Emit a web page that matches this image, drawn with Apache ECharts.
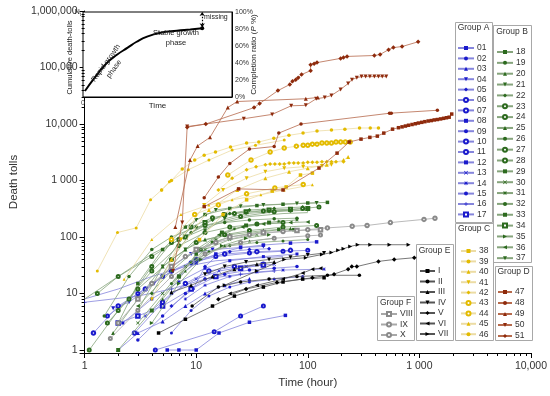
<!DOCTYPE html>
<html><head><meta charset="utf-8">
<script src="https://cdn.jsdelivr.net/npm/echarts@6/dist/echarts.min.js"></script>
<style>html,body{margin:0;padding:0;background:#fff}#c{width:550px;height:396px}</style>
</head><body><div id="c"></div>
<script>
// ---------- tick labels ----------
const X_TICKS = [1, 10, 100, 1000, 10000];
const X_TICK_LABELS = ['1', '10', '100', '1 000', '10,000'];
const Y_TICKS = [1, 10, 100, 1000, 10000, 100000, 1000000];
const Y_TICK_LABELS = ['1', '10', '100', '1 000', '10,000', '100,000', '1,000,000'];
const X_MINOR = [2,3,4,5,6,7,8,9,20,30,40,50,60,70,80,90,200,300,400,500,600,700,800,900,2000,3000,4000,5000,6000,7000,8000,9000];
const Y_MINOR = [2,3,4,5,6,7,8,9,20,30,40,50,60,70,80,90,200,300,400,500,600,700,800,900,2000,3000,4000,5000,6000,7000,8000,9000,20000,30000,40000,50000,60000,70000,80000,90000,200000,300000,400000,500000,600000,700000,800000,900000];

// ---------- Group A ----------
const A_NAMES = ['01','02','03','04','05','06','07','08','09','10','11','12','13','14','15','16','17'];
const S01 = [[5.5,1],[7,1],[10,1],[16,2],[30,3.1],[63,4.1]];
const S02 = [[3,1.5],[5,4],[8,10],[12,18],[18,22],[30,26],[50,28],[80,30]];
const S03 = [[2,1],[3,2],[5,3.2],[8,6],[12,10],[18,14],[30,18]];
const S04 = [[1.8,5.5],[2.5,7],[4.2,15],[6,30],[9,50],[14,60],[25,65],[40,68]];
const S05 = [[6,6],[9.4,12],[12,30],[15,45],[20,55],[30,60],[45,62]];
const S06 = [[4.3,1],[14.5,2.1],[25,4],[40,6]];
const S07 = [[1.2,2],[2,6],[3.5,12],[6,25],[10,40],[18,50],[35,55],[70,58]];
const S08 = [[2.2,3],[4,8],[7,16],[12,28],[20,38],[40,45],[80,50]];
const S09 = [[6,2],[9,5],[13,9],[20,13],[30,16],[50,18],[90,20]];
const S10 = [[1.6,4],[3,10],[5,20],[9,35],[15,45],[30,52],[60,56],[100,58]];
const S11 = [[2.8,2],[5,7],[8,15],[13,25],[22,30],[40,33]];
const S12 = [[7,20],[10,35],[15,50],[25,65],[40,72],[70,78],[120,82]];
const S13 = [[3.5,4],[6,10],[10,18],[16,25],[28,30],[50,33]];
const S14 = [[8,8],[12,14],[20,20],[35,24],[60,26],[140,27]];
const S15 = [[1,8],[2,12],[4,20],[8,30],[15,38],[30,42],[60,45]];
const S16 = [[1,7],[3,9],[6,12],[12,18],[25,22],[50,25]];
const S17 = [[2,3],[3,4],[5,6],[9,12],[15,20],[25,28],[40,32]];

// ---------- Group B ----------
const B_NAMES = ['18','19','20','21','22','23','24','25','26','27','28','29','30','31','32','33','34','35','36','37'];
const S18 = [[2,3],[3,15],[5,60],[8,150],[12,250],[20,320],[35,360],[60,380],[100,400],[150,410]];
const S19 = [[1.5,4],[2.5,20],[4,60],[6,100],[10,150],[18,180],[30,200],[50,210],[80,215]];
const S20 = [[1.8,2],[3,8],[5,30],[8,60],[12,90],[20,110],[40,130],[70,140]];
const S21 = [[3,5],[5,30],[7,80],[10,200],[15,300],[25,350],[40,370],[80,390],[120,400]];
const S22 = [[4,10],[6,40],[9,120],[14,200],[20,260],[30,300],[50,320],[90,340]];
const S23 = [[1.1,1],[2,5],[4,25],[7,70],[12,120],[20,150],[35,170],[60,180]];
const S24 = [[1.3,10],[2,20],[4,45],[7,90],[12,160],[25,230],[50,280],[90,320],[126,340]];
const S25 = [[5,8],[8,25],[12,50],[18,70],[30,85],[50,95]];
const S26 = [[6,15],[9,35],[13,55],[20,70],[35,80],[60,85],[100,90]];
const S27 = [[2.5,8],[4,30],[6,80],[9,150],[14,220],[22,260],[40,290],[70,300]];
const S28 = [[1.6,3],[3,12],[6,40],[10,80],[18,110],[30,130],[60,150],[120,160]];
const S29 = [[7,20],[10,50],[14,80],[20,100],[30,115],[55,135],[60,135],[75,135]];
const S30 = [[3,3],[5,10],[8,30],[12,60],[20,90],[35,110]];
const S31 = [[10,40],[15,90],[22,140],[35,170],[55,190],[80,200]];
const S32 = [[1,8],[2,20],[4,50],[8,100],[15,170],[30,230],[60,260],[100,270]];
const S33 = [[2,1],[4,5],[7,20],[11,60],[17,120],[28,160],[45,180]];
const S34 = [[8,100],[12,180],[18,250],[28,280],[45,300],[70,310],[100,320]];
const S35 = [[4,3],[7,15],[11,40],[17,70],[28,95],[45,110]];
const S36 = [[3,6],[6,25],[10,60],[16,110],[26,150],[40,170],[70,180],[100,185]];
const S37 = [[5,20],[8,60],[12,130],[18,210],[28,260],[45,280],[70,290],[100,300]];

// ---------- Group C ----------
const C_NAMES = ['38','39','40','41','42','43','44','45','46'];
const S38 = [[10.7,90],[17.4,250],[28.3,455],[48,650],[64,770],[86,1250],[110,1350]];
const S39 = [[4.9,680],[6,1000],[7.5,1600],[9.7,2300],[11.8,2800],[14.9,3200],[20.3,3900],[28.3,4600],[36.4,4800],[49.6,5600],[67.8,6300],[90.7,6900],[121,7500],[163,7800],[215,8100],[291,8500],[363,8500],[430,8500]];
const S40 = [[6,40],[13,300],[23.3,680],[41.7,1100],[68,1430],[100,1650],[148,1900],[209,2300],[230,2600]];
const S41 = [[4,7.9],[7.3,90],[11.8,370],[17.4,680],[28.3,1100],[41.7,1430],[61.5,1650],[91,1750],[134,1800],[163,1900]];
const S42 = [[15.8,680],[21,1100],[28.3,1550],[34.4,1750],[41.7,1900],[46,1950],[50.7,1950],[56,1950],[61.5,1950],[68,2050],[75,2050],[82,2050],[91,2050],[100,2100],[110,2100],[121,2100],[134,2150],[148,2150],[163,2150],[179,2150],[209,2150]];
const S43 = [[19.2,1250],[31,2300],[46,3200],[61.5,3750],[79,4050],[91,4200],[100,4200],[110,4400],[121,4400],[134,4600],[148,4600],[163,4600],[179,4800],[197,4800],[217,4800],[240,4800]];
const S44 = [[6,90],[9.7,250],[15.8,370],[28.3,580],[50.7,740],[91,850]];
const S45 = [[2.26,17.8],[4,90],[7.3,250],[13,370],[21,455],[38,560],[61.5,680],[110,840]];
const S46 = [[1.3,25],[1.97,120],[2.9,145],[3.9,455],[4.9,680],[5.75,950],[8.5,1550],[13,2300],[21,3460],[34,4200],[61.5,5200]];

// ---------- Group D ----------
const D_NAMES = ['47','48','49','50','51'];
const S47 = [[11.8,345],[24,710],[60,680],[126,1660],[183,3050],[235,4800],[300,5400],[360,5800],[420,6100],[480,6900],[575,8100],[650,8600],[700,8900],[750,9200],[800,9500],[860,9800],[920,10100],[980,10400],[1050,10700],[1120,11000],[1200,11300],[1280,11500],[1360,11800],[1450,12000],[1550,12300],[1650,12600],[1750,12900],[1850,13200],[1950,15000]];
const S48 = [[11.8,495],[15.8,1150],[20,2000],[30,3600],[50,4000],[55,6900],[87,10000],[540,15500],[560,15500],[1450,17500]];
const S49 = [[6.5,150],[8.8,2300],[10.3,4100],[13.3,5800],[19.2,19600],[23.3,25000],[96,28000],[123,29500]];
const S50 = [[6.2,25],[7.5,180],[8.3,9000],[26.7,12400],[48,14800],[71,21000],[96,21400],[119,28000],[142,29500],[163,32000],[197,41000],[230,52000],[249,61000],[275,66000],[303,69000],[330,69000],[360,69000],[395,69000],[430,69000],[465,69000],[505,69000]];
const S51 = [[8.3,8800],[12.2,10000],[33,19500],[37,23000],[54,39000],[69,50000],[73,57000],[78,61000],[82,66000],[88,75000],[106,88000],[106,112000],[114,117000],[121,122000],[197,145000],[209,150000],[225,157000],[395,163000],[445,170000],[530,207000],[585,225000],[700,235000],[975,285000]];

// ---------- Group E ----------
const E_NAMES = ['I','II','III','IV','V','VI','VII'];
const SE1 = [[4.6,2],[8,3.5],[14,6],[22,9],[40,13],[60,16],[90,18],[140,19]];
const SE2 = [[9.2,6],[15.8,13],[25,16],[45,18],[80,20],[150,21],[290,21]];
const SE3 = [[6,10.5],[9,14],[14,20],[22,27],[35,33],[50,36]];
const SE4 = [[12,22],[18,30],[28,36],[45,40],[70,44],[100,48],[140,52]];
const SE5 = [[15.8,7.9],[28,12],[53,15.7],[110,19],[172,22],[230,27],[248,30],[275,30],[430,37],[595,40],[900,43]];
const SE6 = [[20,10],[35,14],[60,18],[90,23],[110,27],[130,28]];
const SE7 = [[18,14],[35,25],[61.5,40],[96,43],[134,49],[163,53],[187,58],[209,62],[240,68],[280,73],[363,73],[540,73],[800,73]];

// ---------- Group F ----------
const F_NAMES = ['VIII','IX','X'];
const SF1 = [[3,8],[6,30],[10,60],[20,100],[40,120],[80,130],[130,135]];
const SF2 = [[2,3],[4,15],[8,45],[15,80],[30,110],[60,125],[100,135],[150,145],[250,155],[340,160],[550,180],[1100,205],[1380,215]];
const SF3 = [[1.7,1.6],[3,5],[6,20],[12,50],[25,80],[50,95],[100,105],[130,108]];

// ---------- inset curve ----------
const INSET_T = [0.013, 0.08, 0.16, 0.23, 0.30, 0.36, 0.43, 0.52, 0.63, 0.72, 0.80];
const INSET_P = [7, 23, 40, 50, 58, 65, 71, 75.5, 78, 79.5, 81];
const INSET_P_TICKS = [0, 20, 40, 60, 80, 100];

// ---------- styling ----------
const FONT = 'Liberation Sans';
const DOWN = 'path://M0,0L10,0L5,8.66Z';
const RIGHT = 'path://M0,0L8.66,5L0,10Z';
const LEFT = 'path://M8.66,0L0,5L8.66,10Z';
const CROSS = 'path://M1.2,0L5,3.8L8.8,0L10,1.2L6.2,5L10,8.8L8.8,10L5,6.2L1.2,10L0,8.8L3.8,5L0,1.2Z';
const PLUS = 'path://M4.2,0H5.8V4.2H10V5.8H5.8V10H4.2V5.8H0V4.2H4.2Z';
const STAR = 'path://M4.3,0H5.7V10H4.3Z M0,4.3H10V5.7H0Z M1.5,0.5L9.5,8.5L8.5,9.5L0.5,1.5Z M8.5,0.5L9.5,1.5L1.5,9.5L0.5,8.5Z';
const VBAR = 'path://M4.2,0H5.8V10H4.2Z';

const GROUPS = [
  {names: A_NAMES, data: [S01,S02,S03,S04,S05,S06,S07,S08,S09,S10,S11,S12,S13,S14,S15,S16,S17],
   sym: ['rect','circle','triangle',DOWN,'diamond','emptyCircle','emptyCircle','rect','circle','emptyCircle','emptyCircle','rect',CROSS,STAR,'none',PLUS,'emptyRect'],
   size: [3.5,3.5,4,4,4,3,3.5,3,3,3,3.5,3.5,3.5,3.5,0,4,3.5],
   marker: '#1a1acc', line: '#8585dc', z: 3},
  {names: B_NAMES, data: [S18,S19,S20,S21,S22,S23,S24,S25,S26,S27,S28,S29,S30,S31,S32,S33,S34,S35,S36,S37],
   sym: ['rect','circle','triangle',DOWN,'diamond','emptyCircle','emptyCircle','triangle','circle','emptyCircle','emptyCircle','rect',CROSS,STAR,'none',VBAR,'emptyRect',RIGHT,LEFT,DOWN],
   size: [3.5,3.5,4,4,4,3,3,3,3,3,3,3.5,3.5,3.5,0,4,3,4,4,4],
   marker: '#2c6a1e', line: '#86a47c', z: 4},
  {names: C_NAMES, data: [S38,S39,S40,S41,S42,S43,S44,S45,S46],
   sym: ['rect','circle','triangle',DOWN,'diamond','emptyCircle','emptyCircle','triangle','circle'],
   size: [3.5,3.5,4,4,4,3.5,3.5,3,3],
   marker: '#e3bb00', line: '#ecdca4', z: 5},
  {names: E_NAMES, data: [SE1,SE2,SE3,SE4,SE5,SE6,SE7],
   sym: ['rect','circle','triangle',DOWN,'diamond',LEFT,RIGHT],
   size: [3.5,3.5,4,4,4.5,4,4],
   marker: '#000000', line: '#555555', z: 6},
  {names: F_NAMES, data: [SF1,SF2,SF3],
   sym: ['emptyRect','emptyCircle','emptyCircle'],
   size: [3.5,3.5,3],
   marker: '#8a8a8a', line: '#a8a8a8', z: 6},
  {names: D_NAMES, data: [S47,S48,S49,S50,S51],
   sym: ['rect','circle','triangle',DOWN,'diamond'],
   size: [3.5,3.5,4,4,4.5],
   marker: '#8e2a0c', line: '#b66a4c', z: 7}
];

function tickFormatter(ticks, labels) {
  return function (v) {
    for (let i = 0; i < ticks.length; i++) {
      if (Math.abs(v - ticks[i]) <= ticks[i] * 1e-6) return labels[i];
    }
    return '';
  };
}

const series = [];
GROUPS.forEach(g => {
  g.names.forEach((n, i) => {
    series.push({
      name: n, type: 'line', xAxisIndex: 0, yAxisIndex: 0,
      data: g.data[i], symbol: g.sym[i], symbolSize: g.size[i],
      showSymbol: true, showAllSymbol: true,
      lineStyle: {color: g.line, width: 0.8},
      itemStyle: {color: g.marker, borderWidth: 0.8},
      emphasis: {disabled: true}, silent: true, z: g.z, animation: false
    });
  });
});

const Y_MIN = 0.885;
// minor ticks on the log axes
series.push({
  type: 'custom', xAxisIndex: 0, yAxisIndex: 0, silent: true, clip: false, z: 10,
  data: X_MINOR.map(v => [v, Y_MIN]),
  renderItem: (p, api) => {
    const c = api.coord([api.value(0), api.value(1)]);
    const x = Math.round(c[0]) + 0.5;
    return {type: 'line', shape: {x1: x, y1: c[1], x2: x, y2: c[1] + 3}, style: {stroke: '#000', lineWidth: 1}};
  }
});
series.push({
  type: 'custom', xAxisIndex: 0, yAxisIndex: 0, silent: true, clip: false, z: 10,
  data: Y_MINOR.map(v => [1, v]),
  renderItem: (p, api) => {
    const c = api.coord([api.value(0), api.value(1)]);
    const y = Math.round(c[1]) + 0.5;
    return {type: 'line', shape: {x1: c[0], y1: y, x2: c[0] - 3, y2: y}, style: {stroke: '#000', lineWidth: 1}};
  }
});

// inset curve
const insetData = INSET_T.map((t, i) => i === INSET_T.length - 1
  ? {value: [t, INSET_P[i]], symbol: 'circle', symbolSize: 4}
  : {value: [t, INSET_P[i]]});
series.push({
  type: 'line', xAxisIndex: 1, yAxisIndex: 2, data: insetData, smooth: 0.5,
  symbol: 'circle', symbolSize: 0, itemStyle: {color: '#000'},
  lineStyle: {color: '#000', width: 2}, silent: true, z: 20, animation: false,
  markLine: {
    silent: true, symbol: ['arrow', 'arrow'], symbolSize: 4, animation: false,
    label: {show: false},
    lineStyle: {color: '#000', type: [1.5, 1.5], width: 1.2},
    data: [[{coord: [INSET_T[INSET_T.length - 1], INSET_P[INSET_P.length - 1] + 1]}, {coord: [INSET_T[INSET_T.length - 1], 100]}]]
  }
});

function legend(names, left, top, gap, w) {
  return {
    data: names, orient: 'vertical', left: left, top: top, padding: 0,
    itemWidth: w, itemHeight: 5, itemGap: gap, selectedMode: false,
    textStyle: {fontFamily: FONT, fontSize: 8.5, color: '#333', lineHeight: 10, padding: [0, 0, 0, -2]},
    inactiveColor: '#333'
  };
}

const boxStyle = {stroke: '#a8a8a8', lineWidth: 1, fill: '#fff'};
function box(x, y, w, h) {
  return {type: 'rect', shape: {x: x + 0.5, y: y + 0.5, width: w, height: h}, style: boxStyle, z: 0, silent: true};
}
function gtitle(text, x, y) {
  return {type: 'text', x: x, y: y, z: 5, silent: true,
    style: {text: text, fontFamily: FONT, fontSize: 8.5, fill: '#333', align: 'center', verticalAlign: 'middle'}};
}
const insetText = {fontFamily: FONT, fontSize: 7.5, fill: '#222', align: 'center', verticalAlign: 'middle'};

const option = {
  backgroundColor: '#fff',
  animation: false,
  textStyle: {fontFamily: FONT},
  grid: [
    {left: 58, right: 18, top: 11, bottom: 43, containLabel: false},
    {left: 83, top: 12, width: 149, height: 85, show: true, backgroundColor: '#fff', borderColor: '#000', borderWidth: 1, z: 1}
  ],
  xAxis: [
    {type: 'log', logBase: 10, min: 1, max: 10000, gridIndex: 0,
     axisLine: {show: true, lineStyle: {color: '#000', width: 1}},
     axisTick: {show: true, inside: false, length: 5, lineStyle: {color: '#000'}},
     minorTick: {show: false}, splitLine: {show: false},
     axisLabel: {formatter: tickFormatter(X_TICKS, X_TICK_LABELS), fontFamily: FONT, fontSize: 10.5, color: '#333', margin: 8},
     name: 'Time (hour)', nameLocation: 'middle', nameGap: 24,
     nameTextStyle: {fontFamily: FONT, fontSize: 11.5, color: '#333'}},
    {type: 'value', min: 0, max: 1, gridIndex: 1,
     axisLine: {show: true, lineStyle: {color: '#000'}},
     axisTick: {show: false}, splitLine: {show: false},
     axisLabel: {formatter: v => (v === 0 ? '0' : ''), fontFamily: FONT, fontSize: 7, color: '#444', margin: 3, showMinLabel: true, showMaxLabel: false},
     name: 'Time', nameLocation: 'middle', nameGap: 5, nameMoveOverlap: false,
     nameTextStyle: {fontFamily: FONT, fontSize: 8, color: '#222', verticalAlign: 'top'}}
  ],
  yAxis: [
    {type: 'log', logBase: 10, min: Y_MIN, max: 1000000, gridIndex: 0,
     axisLine: {show: true, lineStyle: {color: '#000', width: 1}},
     axisTick: {show: true, inside: false, length: 5, lineStyle: {color: '#000'}},
     minorTick: {show: false}, splitLine: {show: false},
     axisLabel: {formatter: tickFormatter(Y_TICKS, Y_TICK_LABELS), fontFamily: FONT, fontSize: 10.5, color: '#333', margin: 7},
     name: 'Death tolls', nameLocation: 'middle', nameGap: 34, nameRotate: 90,
     nameTextStyle: {fontFamily: FONT, fontSize: 11.5, color: '#333'}},
    {type: 'value', min: 0, max: 100, interval: 20, gridIndex: 1, position: 'left',
     axisLine: {show: true, lineStyle: {color: '#000'}},
     axisTick: {show: true, inside: true, length: 3, lineStyle: {color: '#000'}},
     splitLine: {show: false},
     axisLabel: {formatter: v => (v === 100 ? '{n|N}{t|t}' : ''), margin: 2,
       rich: {n: {fontFamily: FONT, fontSize: 7, color: '#222'}, t: {fontFamily: FONT, fontSize: 4.5, color: '#222', padding: [5, 0, 0, 0]}}},
     name: 'Cumulative death-tolls', nameLocation: 'middle', nameGap: 9, nameRotate: 90, nameMoveOverlap: false,
     nameTextStyle: {fontFamily: FONT, fontSize: 7.5, color: '#222', padding: [0, 0, 0, -6]}},
    {type: 'value', min: 0, max: 100, interval: 20, gridIndex: 1, position: 'right',
     axisLine: {show: true, lineStyle: {color: '#000'}},
     axisTick: {show: true, inside: true, length: 3, lineStyle: {color: '#000'}},
     splitLine: {show: false},
     axisLabel: {formatter: v => INSET_P_TICKS.indexOf(v) >= 0 ? v + '%' : '', fontFamily: FONT, fontSize: 7, color: '#333', margin: 3},
     name: 'Completion ratio ({i|P} %)', nameLocation: 'middle', nameGap: 18, nameRotate: 90, nameMoveOverlap: false,
     nameTextStyle: {fontFamily: FONT, fontSize: 8, color: '#222', rich: {i: {fontFamily: FONT, fontSize: 8, fontStyle: 'italic', color: '#222'}}}}
  ],
  legend: [
    legend(A_NAMES, 457, 43, 0.4, 16),
    legend(B_NAMES, 496, 47, 0.85, 16),
    legend(C_NAMES, 460, 246, 0.4, 15),
    legend(D_NAMES, 497, 287, 1, 14),
    legend(E_NAMES, 419, 266, 0.5, 15),
    legend(F_NAMES, 380, 309, 0.5, 16)
  ],
  graphic: [
    box(455, 22, 37, 200), gtitle('Group A', 473.5, 28),
    box(493, 25, 38, 237), gtitle('Group B', 512, 31.5),
    box(455, 223, 38, 117), gtitle('Group C', 474, 229),
    box(495, 266, 37, 74), gtitle('Group D', 513.5, 271.5),
    box(416, 244, 37, 96), gtitle('Group E', 434.5, 251),
    box(377, 296, 37, 44), gtitle('Group F', 395.5, 303),
    {type: 'text', x: 204, y: 17.5, z: 30, silent: true, style: Object.assign({}, insetText, {text: 'missing', align: 'left', fontSize: 7})},
    {type: 'text', x: 176, y: 38, z: 30, silent: true, style: Object.assign({}, insetText, {text: 'Stable growth\nphase', lineHeight: 10})},
    {type: 'text', x: 110, y: 66, z: 30, rotation: 0.95, silent: true, style: Object.assign({}, insetText, {text: 'Rapid growth\nphase', lineHeight: 10})}
  ],
  series: series
};

const chart = echarts.init(document.getElementById('c'), null, {renderer: 'canvas', width: 550, height: 396});
chart.setOption(option);
</script>
</body></html>
